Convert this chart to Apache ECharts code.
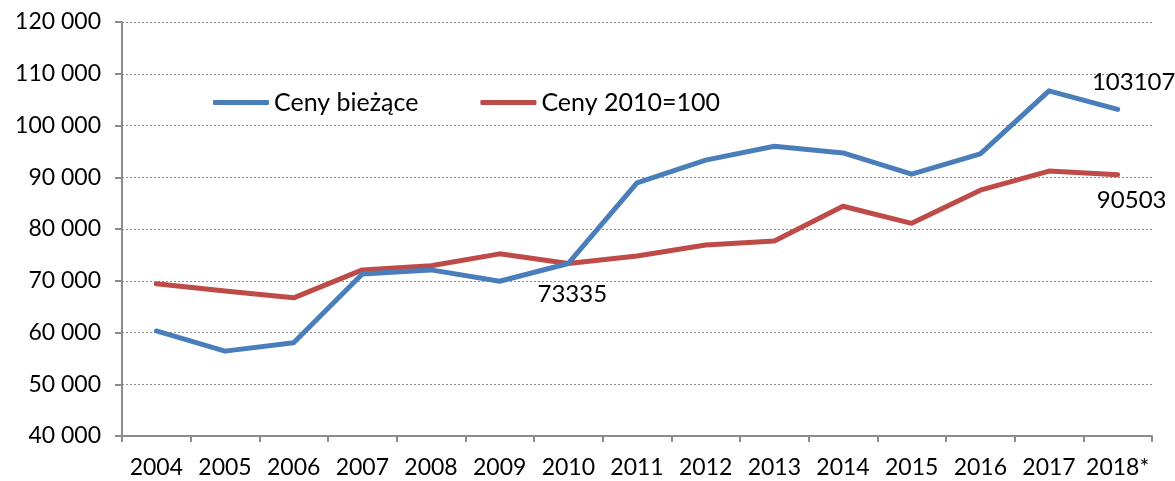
<!DOCTYPE html>
<html>
<head>
<meta charset="utf-8">
<script src="https://cdn.jsdelivr.net/npm/echarts@6/dist/echarts.min.js"></script>
<style>
  html, body { margin: 0; padding: 0; background: #fff; }
  #chart { width: 1175px; height: 481px; }
</style>
</head>
<body>
<div id="chart"></div>
<script>
const years = ['2004', '2005', '2006', '2007', '2008', '2009', '2010', '2011', '2012', '2013', '2014', '2015', '2016', '2017', '2018*']
const cenyBiezace = [60300, 56400, 58000, 71300, 72100, 69900, 73335, 88900, 93300, 96000, 94700, 90600, 94500, 106700, 103107]
const ceny2010 = [69400, 68000, 66700, 72100, 72900, 75200, 73335, 74800, 76900, 77700, 84400, 81100, 87500, 91200, 90503]

// etykiety danych tylko dla wybranych punktów
const blueLabels = { 6: { position: 'bottom', offset: [4, 14] }, 14: { position: 'top', offset: [16, -10] } }
const redLabels = { 14: { position: 'bottom', offset: [14, 9] } }

const font = 'Lato, "Open Sans", sans-serif'
const fs = 23

const withLabels = (values, labels) => values.map((v, i) => {
  if (!labels[i]) return v
  return { value: v, label: { show: true, ...labels[i] } }
})

const chart = echarts.init(document.getElementById('chart'))

chart.setOption({
  animation: false,
  textStyle: { fontFamily: font },
  grid: { left: 122, right: 23, top: 22, bottom: 45 },
  legend: {
    top: 85,
    left: 208,
    itemWidth: 56,
    itemHeight: 5,
    itemGap: 62,
    icon: 'roundRect',
    textStyle: { fontSize: 25, color: '#000', fontFamily: font },
    data: ['Ceny bieżące', 'Ceny 2010=100']
  },
  xAxis: {
    type: 'category',
    data: years,
    boundaryGap: true,
    axisLine: { lineStyle: { color: '#8c8c8c', width: 2 } },
    axisTick: { show: true, length: 6, interval: 0, lineStyle: { color: '#8c8c8c', width: 2 } },
    axisLabel: { fontSize: fs, color: '#000', margin: 20, interval: 0, fontFamily: font }
  },
  yAxis: {
    type: 'value',
    min: 40000,
    max: 120000,
    interval: 10000,
    axisLine: { show: true, lineStyle: { color: '#8c8c8c', width: 2 } },
    axisTick: { show: true, length: 7, lineStyle: { color: '#8c8c8c', width: 2 } },
    axisLabel: {
      fontSize: fs,
      color: '#000',
      margin: 21,
      fontFamily: font,
      formatter: v => String(v).replace(/\B(?=(\d{3})+(?!\d))/g, ' ')
    },
    splitLine: { lineStyle: { color: '#8c8c8c', type: [2, 2], width: 1 } }
  },
  series: [
    {
      name: 'Ceny bieżące',
      type: 'line',
      data: withLabels(cenyBiezace, blueLabels),
      symbol: 'circle',
      symbolSize: 0,
      showAllSymbol: true,
      lineStyle: { width: 5, color: '#4a7ebb', cap: 'round', join: 'round' },
      itemStyle: { color: '#4a7ebb' },
      label: { fontSize: 24, color: '#000', fontFamily: font },
      z: 3
    },
    {
      name: 'Ceny 2010=100',
      type: 'line',
      data: withLabels(ceny2010, redLabels),
      symbol: 'circle',
      symbolSize: 0,
      showAllSymbol: true,
      lineStyle: { width: 5, color: '#be4b48', cap: 'round', join: 'round' },
      itemStyle: { color: '#be4b48' },
      label: { fontSize: 24, color: '#000', fontFamily: font },
      z: 2
    }
  ]
})
</script>
</body>
</html>
